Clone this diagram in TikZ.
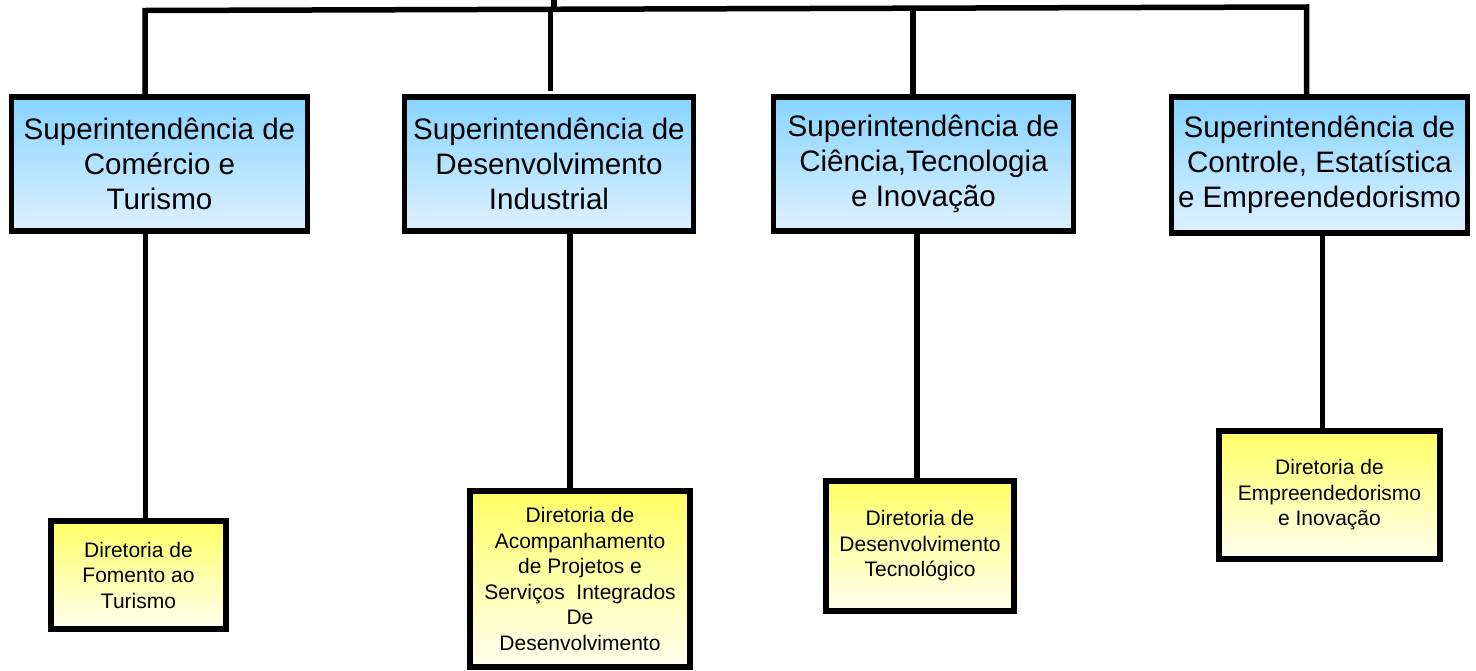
\documentclass[tikz,border=0pt]{standalone}
\usepackage{fontspec}
\setmainfont{Liberation Sans}
\definecolor{bluetop}{RGB}{135,212,255}
\definecolor{bluebot}{RGB}{222,241,255}
\definecolor{yeltop}{RGB}{255,255,100}
\definecolor{yelbot}{RGB}{255,255,240}
\tikzset{
  bluebox/.style={draw=black, line width=5.5pt, top color=bluetop, bottom color=bluebot,
    inner sep=0pt, align=center, font=\fontsize{29.6}{35}\selectfont},
  yelbox/.style={draw=black, line width=5.5pt, top color=yeltop, bottom color=yelbot,
    inner sep=0pt, align=center, font=\fontsize{21}{25.5}\selectfont},
  conn/.style={line width=5.5pt, line join=miter}
}
\begin{document}
\begin{tikzpicture}[x=1pt,y=-1pt]
\useasboundingbox (0,0) rectangle (1476,670);
% superintendencias
\node[bluebox, minimum width=296pt, minimum height=134pt] (b1) at (159.5,164)
  {Superintendência de\\Comércio e\\Turismo};
\node[bluebox, minimum width=289pt, minimum height=134pt] (b2) at (549,164)
  {Superintendência de\\Desenvolvimento\\Industrial};
\node[bluebox, minimum width=300pt, minimum height=134pt] (b3) at (923.5,164)
  {Superintendência de\\Ciência,Tecnologia\\e Inovação};
\node[bluebox, minimum width=296pt, minimum height=136pt] (b4) at (1319.5,165)
  {Superintendência de\\Controle, Estatística\\e Empreendedorismo};
% diretorias
\node[yelbox, minimum width=175pt, minimum height=108pt] (y1) at (138.5,575)
  {Diretoria de\\Fomento ao\\Turismo};
\node[yelbox, minimum width=220pt, minimum height=176pt] (y2) at (580,579)
  {Diretoria de\\Acompanhamento\\de Projetos e\\Serviços\ \ Integrados\\De\\Desenvolvimento};
\node[yelbox, minimum width=188pt, minimum height=130pt] (y3) at (920,546)
  {Diretoria de\\Desenvolvimento\\Tecnológico};
\node[yelbox, minimum width=221pt, minimum height=128pt] (y4) at (1329.5,495)
  {Diretoria de\\Empreendedorismo\\e Inovação};
% trunk coordinates
\coordinate (t1) at (145,10.5);
\coordinate (t4) at (1306.5,7);
\coordinate (ttop) at (554,0);
\coordinate (tmid) at (554,9.3);
\coordinate (s2a) at (550.5,9.3);
\coordinate (s2b) at (550.5,91);
\coordinate (t3) at (913,8);
% top connectors
\draw[conn] (t1 |- b1.north) -- (t1) -- (t4) -- (t4 |- b4.north);
\draw[conn] (ttop) -- (tmid);
\draw[conn] (s2a) -- (s2b);
\draw[conn] (t3) -- (t3 |- b3.north);
% lower connectors
\coordinate (c1) at (145.5,0);
\coordinate (c2) at (570,0);
\coordinate (c3) at (917,0);
\coordinate (c4) at (1322.5,0);
\draw[conn] (c1 |- b1.south) -- (c1 |- y1.north);
\draw[conn] (c2 |- b2.south) -- (c2 |- y2.north);
\draw[conn] (c3 |- b3.south) -- (c3 |- y3.north);
\draw[conn] (c4 |- b4.south) -- (c4 |- y4.north);
\end{tikzpicture}
\end{document}
